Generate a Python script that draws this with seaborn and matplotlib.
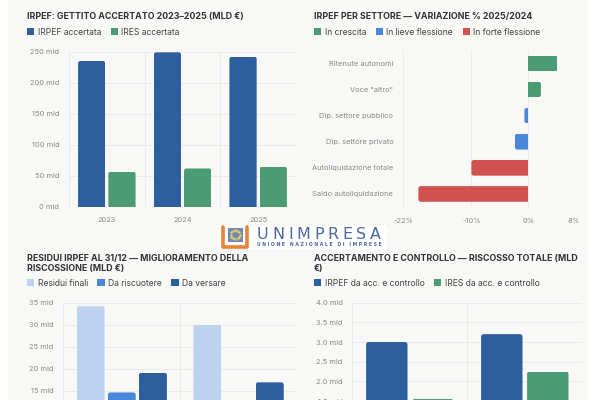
import numpy as np
import pandas as pd
import matplotlib
matplotlib.use("Agg")
import matplotlib.pyplot as plt
from matplotlib.patches import Patch, Rectangle, FancyBboxPatch
from matplotlib.lines import Line2D
import seaborn as sns

# ----------------------------------------------------
# Data
# ----------------------------------------------------
anni = ["2023", "2024", "2025"]
irpef_accertata = [235, 249, 242]
ires_accertata = [57, 62, 65]

settori = ["Ritenute autonomi", 'Voce "altro"', "Dip. settore pubblico",
           "Dip. settore privato", "Autoliquidazione totale", "Saldo autoliquidazione"]
variazione = [5.1, 2.2, -0.7, -2.4, -10.0, -19.3]
gruppo = ["In crescita", "In crescita", "In lieve flessione",
          "In lieve flessione", "In forte flessione", "In forte flessione"]
var_ticks = [-22, -10, 0, 8]

residui_anni = ["2023", "2024"]
residui_finali = [34.2, 30.0]
da_riscuotere = [14.6, 11.5]
da_versare = [19.1, 16.9]

acc_anni = ["2024", "2025"]
irpef_acc = [3.0, 3.2]
ires_acc = [1.55, 2.25]

# ----------------------------------------------------
# Style
# ----------------------------------------------------
sns.set_theme(style="white")
plt.rcParams["font.family"] = ["Inter", "DejaVu Sans"]

BLUE = "#2d5e9e"
GREEN = "#4b9b74"
RED = "#d1524f"
MID_BLUE = "#4a87d9"
PALE_BLUE = "#bcd3f0"
GRID = "#eaeaea"
TICK = "#8a8a8a"
TITLE = "#333333"
BG = "#f8f8f6"

W, H = 600, 400


def fx(x):
    return x / W


def fy(y):
    return 1 - y / H


def axes_box(x0, y0, x1, y1):
    return [fx(x0), fy(y1), (x1 - x0) / W, (y1 - y0) / H]


fig = plt.figure(figsize=(6, 4), dpi=100, facecolor="white")
fig.add_artist(Rectangle((fx(8), 0), fx(580), 1, transform=fig.transFigure,
                         facecolor=BG, edgecolor="none", zorder=0))


def title(x, y, s):
    fig.text(fx(x), fy(y), s, fontsize=6.4, fontweight="bold", color=TITLE,
             va="top", ha="left", linespacing=1.15)


def legend(x, y, labels, colors):
    handles = [Patch(facecolor=c, edgecolor="none") for c in colors]
    fig.legend(handles, labels, loc="center left", bbox_to_anchor=(fx(x), fy(y)),
               ncol=len(labels), frameon=False, fontsize=6.2, labelcolor="#444444",
               handlelength=0.85, handleheight=0.85, handletextpad=0.4,
               columnspacing=1.1, borderpad=0, borderaxespad=0)


def style_vbar(ax, n, ymax, step, fmt):
    ax.set_facecolor("none")
    for s in ax.spines.values():
        s.set_visible(False)
    ax.set_axisbelow(True)
    ax.set_xlim(-0.5, n - 0.5)
    ax.set_ylim(0, ymax)
    ticks = np.arange(0, ymax + step / 2, step)
    ax.set_yticks(ticks)
    ax.set_yticklabels([fmt(t) for t in ticks])
    ax.set_xticks(np.arange(-0.5, n), minor=True)
    ax.yaxis.grid(True, color=GRID, lw=0.7)
    ax.xaxis.grid(True, which="minor", color=GRID, lw=0.7)
    ax.xaxis.grid(False, which="major")
    ax.tick_params(axis="y", length=3, color=GRID, width=0.7, pad=4,
                   labelsize=5.4, labelcolor=TICK)
    ax.tick_params(axis="x", which="major", length=0, pad=7,
                   labelsize=5.4, labelcolor=TICK)
    ax.tick_params(axis="x", which="minor", length=3, color=GRID, width=0.7)
    ax.set_xlabel("")
    ax.set_ylabel("")


def round_bars(ax, horizontal=False, r_px=2.5):
    # swap seaborn rectangles for rounded ones, base side kept square
    fig.canvas.draw()
    inv = ax.transData.inverted()
    x0, y0 = inv.transform((0, 0))
    x1, y1 = inv.transform((r_px, r_px))
    rx, ry = abs(x1 - x0), abs(y1 - y0)
    for p in list(ax.patches):
        x, y, w, h = p.get_x(), p.get_y(), p.get_width(), p.get_height()
        if horizontal:
            if w >= 0:
                box = (x - rx, y, w + rx, h)
            else:
                box = (x + w, y, -w + rx, h)
        else:
            box = (x, y - ry, w, h + ry)
        fb = FancyBboxPatch(box[:2], box[2], box[3],
                            boxstyle=f"round,pad=0,rounding_size={rx}",
                            mutation_aspect=ry / rx, facecolor=p.get_facecolor(),
                            edgecolor="none", zorder=p.get_zorder())
        clip = Rectangle((min(x, x + w), min(y, y + h)), abs(w), abs(h),
                         transform=ax.transData)
        p.remove()
        ax.add_patch(fb)
        fb.set_clip_path(clip)


# ----------------------------------------------------
# 1. IRPEF gettito accertato
# ----------------------------------------------------
df1 = pd.DataFrame({
    "anno": anni * 2,
    "valore": irpef_accertata + ires_accertata,
    "serie": ["IRPEF accertata"] * 3 + ["IRES accertata"] * 3,
})
ax1 = fig.add_axes(axes_box(69, 51.7, 296, 207))
sns.barplot(data=df1, x="anno", y="valore", hue="serie", palette=[BLUE, GREEN],
            width=0.8, gap=0.1, saturation=1, linewidth=0, legend=False, ax=ax1)
style_vbar(ax1, 3, 250, 50, lambda v: f"{v:.0f} mld")
round_bars(ax1)
title(27, 11.5, "IRPEF: GETTITO ACCERTATO 2023–2025 (MLD €)")
legend(27, 32.3, ["IRPEF accertata", "IRES accertata"], [BLUE, GREEN])

# ----------------------------------------------------
# 2. IRPEF per settore
# ----------------------------------------------------
df2 = pd.DataFrame({"settore": settori, "var": variazione, "gruppo": gruppo})
pal2 = {"In crescita": GREEN, "In lieve flessione": MID_BLUE, "In forte flessione": RED}
ax2 = fig.add_axes(axes_box(403, 50.3, 574, 207))
sns.barplot(data=df2, x="var", y="settore", hue="gruppo", palette=pal2, dodge=False,
            width=0.6, saturation=1, linewidth=0, legend=False, orient="h", ax=ax2)
ax2.set_facecolor("none")
for s in ax2.spines.values():
    s.set_visible(False)
ax2.set_axisbelow(True)
ax2.set_xlim(var_ticks[0], var_ticks[-1])
ax2.set_xticks(var_ticks)
ax2.set_xticklabels([f"{v}%" for v in var_ticks])
ax2.xaxis.grid(True, color=GRID, lw=0.7)
ax2.yaxis.grid(False)
ax2.tick_params(axis="x", length=3, color=GRID, width=0.7, pad=5,
                labelsize=5.4, labelcolor=TICK)
ax2.tick_params(axis="y", length=0, pad=7, labelsize=5.4, labelcolor=TICK)
ax2.set_xlabel("")
ax2.set_ylabel("")
round_bars(ax2, horizontal=True)
title(314, 11.5, "IRPEF PER SETTORE — VARIAZIONE % 2025/2024")
legend(314, 32.3, list(pal2.keys()), list(pal2.values()))

# ----------------------------------------------------
# 3. Residui IRPEF al 31/12
# ----------------------------------------------------
df3 = pd.DataFrame({
    "anno": residui_anni * 3,
    "valore": residui_finali + da_riscuotere + da_versare,
    "serie": ["Residui finali"] * 2 + ["Da riscuotere"] * 2 + ["Da versare"] * 2,
})
ax3 = fig.add_axes(axes_box(63.3, 302.7, 297, 456.7))
sns.barplot(data=df3, x="anno", y="valore", hue="serie",
            palette=[PALE_BLUE, MID_BLUE, BLUE], width=0.8, gap=0.1,
            saturation=1, linewidth=0, legend=False, ax=ax3)
style_vbar(ax3, 2, 35, 5, lambda v: f"{v:.0f} mld")
round_bars(ax3)
title(27, 253.5, "RESIDUI IRPEF AL 31/12 — MIGLIORAMENTO DELLA\nRISCOSSIONE (MLD €)")
legend(27, 283.3, ["Residui finali", "Da riscuotere", "Da versare"],
       [PALE_BLUE, MID_BLUE, BLUE])

# ----------------------------------------------------
# 4. Accertamento e controllo
# ----------------------------------------------------
df4 = pd.DataFrame({
    "anno": acc_anni * 2,
    "valore": irpef_acc + ires_acc,
    "serie": ["IRPEF da acc. e controllo"] * 2 + ["IRES da acc. e controllo"] * 2,
})
ax4 = fig.add_axes(axes_box(352.3, 302.7, 582.3, 460))
sns.barplot(data=df4, x="anno", y="valore", hue="serie", palette=[BLUE, GREEN],
            width=0.8, gap=0.1, saturation=1, linewidth=0, legend=False, ax=ax4)
style_vbar(ax4, 2, 4.0, 0.5, lambda v: f"{v:.1f} mld")
round_bars(ax4)
title(314, 253.5, "ACCERTAMENTO E CONTROLLO — RISCOSSO TOTALE (MLD\n€)")
legend(314, 283.3, ["IRPEF da acc. e controllo", "IRES da acc. e controllo"],
       [BLUE, GREEN])

# ----------------------------------------------------
# Logo watermark
# ----------------------------------------------------
LOGO = "#4d689e"
ORANGE = "#e5843a"
fig.add_artist(Rectangle((fx(219), fy(249)), 168 / W, 23 / H, transform=fig.transFigure,
                         facecolor="white", edgecolor="none", zorder=5))
fig.add_artist(Line2D([fx(223), fx(223), fx(247), fx(247)],
                      [fy(227), fy(246.5), fy(246.5), fy(227)],
                      transform=fig.transFigure, color=ORANGE, lw=2.6,
                      solid_joinstyle="round", zorder=6))
fig.add_artist(Rectangle((fx(228), fy(241.5)), 14.5 / W, 14 / H, transform=fig.transFigure,
                         facecolor="#7188b8", edgecolor="none", zorder=7))
ang = np.linspace(0, 2 * np.pi, 13)[:-1]
fig.add_artist(Line2D(fx(235.2 + 4.6 * np.cos(ang)), fy(234.5 + 4.6 * np.sin(ang)),
                      transform=fig.transFigure, ls="none", marker="o", ms=0.8,
                      color="#e8d35a", zorder=8))

fig.canvas.draw()
renderer = fig.canvas.get_renderer()

# "UNIMPRESA" letter-spaced to the logo width
word = "UNIMPRESA"
chars = [fig.text(0, fy(234.5), c, fontsize=11.5, color=LOGO, family="DejaVu Sans",
                  va="center", ha="left", zorder=8) for c in word]
widths = [c.get_window_extent(renderer).width for c in chars]
extra = (124 - sum(widths)) / (len(word) - 1)
xpos = 257
for c, w in zip(chars, widths):
    c.set_x(fx(xpos))
    xpos += w + extra

t2 = fig.text(fx(257), fy(244.6), " ".join("UNIONE NAZIONALE DI IMPRESE"),
              fontsize=3, color=LOGO, fontweight="bold", family="DejaVu Sans",
              va="center", ha="left", zorder=8)
t2.set_fontsize(3 * 124 / t2.get_window_extent(renderer).width)

# labels that fall below the cropped bottom edge are not drawn
fig.canvas.draw()
for ax in (ax3, ax4):
    for lab in ax.get_xticklabels() + ax.get_yticklabels():
        if lab.get_window_extent(renderer).y1 < 0:
            lab.set_visible(False)

fig.savefig("out.png", dpi=100, facecolor="white")
